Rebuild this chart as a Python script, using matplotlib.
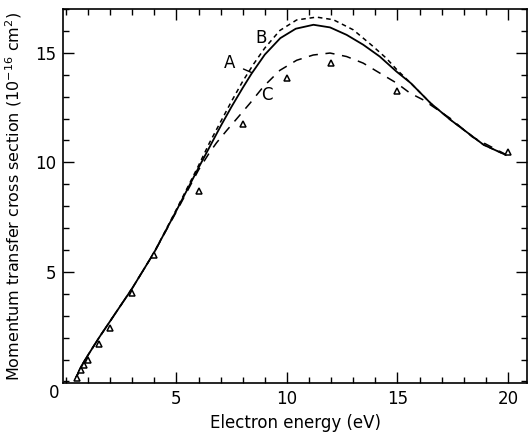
import matplotlib
matplotlib.use("Agg")
import matplotlib.pyplot as plt
from matplotlib.ticker import MultipleLocator, FixedLocator

# Experimental points (triangles)
exp_energy = [0.5, 0.7, 0.8, 1.0, 1.5, 2.0, 3.0, 4.0, 6.0, 8.0, 10.0, 12.0, 15.0, 20.0]
exp_sigma = [0.16, 0.52, 0.75, 0.98, 1.71, 2.44, 4.04, 5.78, 8.70, 11.75, 13.86, 14.55, 13.26, 10.48]

# Curve A (solid)
a_energy = [0.45, 0.7, 1.0, 1.5, 2.0, 3.0, 4.0, 5.0, 6.0, 6.5, 7.0, 7.5, 8.0, 8.4, 9.0, 9.7,
            10.4, 11.2, 11.95, 12.7, 13.45, 14.2, 14.95, 15.6, 16.5, 17.4, 18.9, 19.9]
a_sigma = [0.15, 0.7, 1.2, 2.0, 2.75, 4.25, 5.9, 7.8, 9.75, 10.7, 11.65, 12.55, 13.4, 14.05, 14.92, 15.67,
           16.1, 16.28, 16.16, 15.82, 15.37, 14.83, 14.15, 13.62, 12.7, 11.94, 10.8, 10.34]

# Curve B (short dashes)
b_energy = [0.45, 0.7, 1.0, 1.5, 2.0, 3.0, 4.0, 5.0, 6.0, 6.5, 7.0, 7.5, 8.0, 8.5, 9.0, 9.68,
            10.44, 11.34, 12.1, 13.0, 13.9, 14.5, 15.0, 15.6, 16.5, 17.4, 18.9, 19.9]
b_sigma = [0.15, 0.7, 1.2, 2.0, 2.75, 4.25, 5.9, 7.85, 9.85, 10.9, 11.85, 12.8, 13.7, 14.5, 15.22, 16.02,
           16.5, 16.63, 16.51, 16.05, 15.29, 14.75, 14.2, 13.62, 12.7, 11.94, 10.8, 10.34]

# Curve C (long dashes)
c_energy = [0.45, 0.7, 1.0, 1.5, 2.0, 3.0, 4.0, 5.0, 6.0, 6.5, 6.82, 7.27, 7.72, 8.33, 8.93, 9.68,
            10.44, 11.19, 11.95, 12.7, 13.45, 14.21, 14.96, 15.57, 16.17, 16.5, 17.4, 18.4, 19.9]
c_sigma = [0.15, 0.7, 1.2, 2.0, 2.75, 4.25, 5.9, 7.75, 9.65, 10.45, 10.9, 11.45, 11.98, 12.7, 13.45, 14.2,
           14.66, 14.9, 14.99, 14.83, 14.53, 14.07, 13.62, 13.16, 12.85, 12.62, 12.0, 11.15, 10.36]

x_major = [5, 10, 15, 20]
y_major = [5, 10, 15]

fig = plt.figure(figsize=(5.31, 4.34), dpi=100)
ax = fig.add_axes([63 / 531, 1 - 383 / 434, (527 - 63) / 531, (383 - 9) / 434])

ax.plot(a_energy, a_sigma, color="black", lw=1.3, ls="-")
ax.plot(b_energy, b_sigma, color="black", lw=1.1, ls=(0, (3, 2.5)))
ax.plot(c_energy, c_sigma, color="black", lw=1.1, ls=(0, (6, 5)))
ax.plot(exp_energy, exp_sigma, ls="none", marker="^", ms=5, mfc="white", mec="black", mew=1.1)

ax.set_xlim(-0.13, 20.86)
ax.set_ylim(-0.07, 17.0)

ax.xaxis.set_major_locator(FixedLocator(x_major))
ax.yaxis.set_major_locator(FixedLocator(y_major))
ax.xaxis.set_minor_locator(MultipleLocator(1))
ax.yaxis.set_minor_locator(MultipleLocator(1))
ax.tick_params(which="both", direction="in", top=True, right=True, width=1.0, labelsize=12, pad=5)
ax.tick_params(which="major", length=8)
ax.tick_params(which="minor", length=4.5)
for s in ax.spines.values():
    s.set_linewidth(1.2)

ax.text(-0.55, -0.1, "0", ha="center", va="top", fontsize=12)

ax.set_xlabel("Electron energy (eV)", fontsize=12, labelpad=4)
ax.set_ylabel(r"Momentum transfer cross section (10$^{-16}$ cm$^{2}$)", fontsize=11.5, labelpad=8)

ax.annotate("A", xy=(8.40, 14.1), xytext=(7.42, 14.53), ha="center", va="center", fontsize=12,
            arrowprops=dict(arrowstyle="-", color="black", lw=1.0, shrinkA=4, shrinkB=0))
ax.text(8.85, 15.67, "B", ha="center", va="center", fontsize=12)
ax.text(9.08, 13.08, "C", ha="center", va="center", fontsize=12)

fig.savefig("out.png", dpi=100)
